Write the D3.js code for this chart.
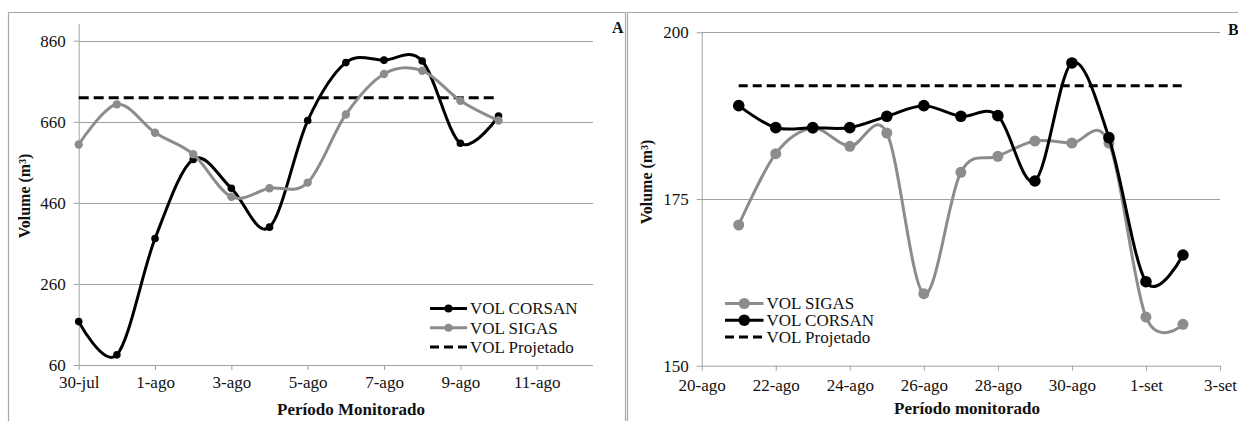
<!DOCTYPE html>
<html>
<head>
<meta charset="utf-8">
<script src="https://cdn.jsdelivr.net/npm/d3@7/dist/d3.min.js"></script>
<style>
  html, body { margin: 0; padding: 0; background: #fff; }
  svg { display: block; }
  svg text { font-family: "Liberation Serif", "Times New Roman", serif; }
</style>
</head>
<body>
<svg id="chart" width="1238" height="421"></svg>
<script>
// ---------- DATA ----------
// Panel A
const leftDates = ["2013-07-30","2013-07-31","2013-08-01","2013-08-02","2013-08-03","2013-08-04",
                   "2013-08-05","2013-08-06","2013-08-07","2013-08-08","2013-08-09","2013-08-10"];
const leftCorsan = [167, 85, 372, 567, 496, 400, 663, 806, 812, 810, 607, 674];
const leftSigas  = [604, 703, 633, 580, 475, 496, 510, 678, 778, 786, 712, 663];
const leftProjetado = [719, 719];
const leftXTickDates = ["2013-07-30","2013-08-01","2013-08-03","2013-08-05","2013-08-07","2013-08-09","2013-08-11"];
const leftXTickLabels = ["30-jul","1-ago","3-ago","5-ago","7-ago","9-ago","11-ago"];
const leftYTicks = [60, 260, 460, 660, 860];

// Panel B
const rightDates = ["2013-08-21","2013-08-22","2013-08-23","2013-08-24","2013-08-25","2013-08-26","2013-08-27",
                    "2013-08-28","2013-08-29","2013-08-30","2013-08-31","2013-09-01","2013-09-02"];
const rightSigas  = [171.1, 181.8, 185.6, 182.9, 184.9, 160.8, 179.0, 181.4, 183.7, 183.4, 183.4, 157.3, 156.2];
const rightCorsan = [189.0, 185.7, 185.7, 185.7, 187.4, 189.0, 187.4, 187.5, 177.7, 195.4, 184.2, 162.6, 166.6];
const rightProjetado = [192, 192];
const rightXTickDates = ["2013-08-20","2013-08-22","2013-08-24","2013-08-26","2013-08-28","2013-08-30","2013-09-01","2013-09-03"];
const rightXTickLabels = ["20-ago","22-ago","24-ago","26-ago","28-ago","30-ago","1-set","3-set"];
const rightYTicks = [150, 175, 200];

// ---------- DRAWING ----------
const svg = d3.select("#chart");
const parse = d3.utcParse("%Y-%m-%d");
const FONT = "Liberation Serif";
const GRID = "#a0a0a0";
const GREY = "#8c8c8c";

// panel borders
svg.append("path").attr("d", "M8.5,421 V12.5 H625.5 V421")
  .attr("fill", "none").attr("stroke", "#a8a8a8").attr("stroke-width", 1.2);
svg.append("path").attr("d", "M627.5,421 V12.5 H1238")
  .attr("fill", "none").attr("stroke", "#a8a8a8").attr("stroke-width", 1.2);

function panel(cfg) {
  const g = svg.append("g");
  const x = d3.scaleUtc().domain(cfg.xDomain.map(parse)).range(cfg.xRange);
  const y = d3.scaleLinear().domain(cfg.yDomain).range(cfg.yRange);
  const left = cfg.xRange[0], right = cfg.plotRight;

  // gridlines
  g.selectAll("line.grid").data(cfg.yTicks.slice(1)).join("line")
    .attr("x1", left).attr("x2", right)
    .attr("y1", d => Math.round(y(d)) + 0.5).attr("y2", d => Math.round(y(d)) + 0.5)
    .attr("stroke", GRID).attr("stroke-width", 1);

  // y axis
  const ya = g.append("g").attr("transform", `translate(${left},0)`)
    .call(d3.axisLeft(y).tickValues(cfg.yTicks).tickSize(5).tickPadding(8).tickFormat(d3.format("d")));
  ya.select(".domain").remove();
  ya.append("line").attr("x1", 0.5).attr("x2", 0.5).attr("y1", cfg.yAxisTop).attr("y2", cfg.yRange[0])
    .attr("stroke", GRID);
  ya.selectAll(".tick line").attr("stroke", GRID);
  ya.selectAll(".tick text").attr("font-size", 17).attr("fill", "#111").attr("font-family", FONT);

  // x axis
  const tickDates = cfg.xTickDates.map(parse);
  const xa = g.append("g").attr("transform", `translate(0,${cfg.yRange[0]})`)
    .call(d3.axisBottom(x).tickValues(tickDates).tickSize(5).tickPadding(cfg.xPad)
      .tickFormat((d, i) => cfg.xTickLabels[i]));
  xa.select(".domain").attr("stroke", GRID).attr("d", `M${left},0.5H${right}`);
  xa.selectAll(".tick line").attr("stroke", GRID);
  xa.selectAll(".tick text").attr("font-size", 17).attr("fill", "#111").attr("font-family", FONT);

  // axis titles
  g.append("text").attr("x", cfg.xTitlePos[0]).attr("y", cfg.xTitlePos[1])
    .attr("text-anchor", "middle").attr("font-weight", "bold").attr("font-size", 17)
    .attr("font-family", FONT).attr("fill", "#111").text(cfg.xTitle);
  g.append("text").attr("transform", `translate(${cfg.yTitlePos[0]},${cfg.yTitlePos[1]}) rotate(-90)`)
    .attr("text-anchor", "middle").attr("font-weight", "bold").attr("font-size", 16)
    .attr("font-family", FONT).attr("fill", "#111")
    .text("Volume (m³)");

  // projected
  const pd = cfg.projDates.map(parse);
  g.append("line").attr("x1", x(pd[0])).attr("x2", x(pd[1]))
    .attr("y1", y(cfg.proj[0])).attr("y2", y(cfg.proj[1]))
    .attr("stroke", "#000").attr("stroke-width", 3).attr("stroke-dasharray", cfg.dash);

  const dates = cfg.dates.map(parse);
  const line = d3.line().x(d => x(d[0])).y(d => y(d[1])).curve(d3.curveCardinal.tension(0));
  cfg.series.forEach(s => {
    const pts = dates.map((d, i) => [d, s.values[i]]);
    g.append("path").datum(pts).attr("d", line).attr("fill", "none")
      .attr("stroke", s.color).attr("stroke-width", 3);
    g.selectAll(null).data(pts).join("circle")
      .attr("cx", d => x(d[0])).attr("cy", d => y(d[1])).attr("r", s.r).attr("fill", s.color);
  });

  // legend
  const lg = g.append("g");
  cfg.legend.forEach((item, i) => {
    const yy = cfg.legendPos[1] + i * cfg.legendStep;
    const x0 = cfg.legendPos[0];
    if (item.dash) {
      lg.append("line").attr("x1", x0).attr("x2", x0 + cfg.legendLen).attr("y1", yy).attr("y2", yy)
        .attr("stroke", "#000").attr("stroke-width", 3).attr("stroke-dasharray", "9,5");
    } else {
      lg.append("line").attr("x1", x0).attr("x2", x0 + cfg.legendLen).attr("y1", yy).attr("y2", yy)
        .attr("stroke", item.color).attr("stroke-width", 3);
      lg.append("circle").attr("cx", x0 + cfg.legendLen / 2).attr("cy", yy).attr("r", item.r)
        .attr("fill", item.color);
    }
    lg.append("text").attr("x", x0 + cfg.legendLen + 3).attr("y", yy).attr("dy", "0.35em")
      .attr("font-size", 17).attr("font-family", FONT).attr("fill", "#111").text(item.label);
  });

  g.append("text").attr("x", cfg.letterPos[0]).attr("y", cfg.letterPos[1])
    .attr("font-weight", "bold").attr("font-size", 16).attr("font-family", FONT)
    .attr("fill", "#111").text(cfg.letter);
}

panel({
  xDomain: ["2013-07-30", "2013-08-11"], xRange: [78.7, 536.7], plotRight: 593,
  yDomain: [60, 860], yRange: [365, 40.7], yAxisTop: 24, xPad: 6,
  yTicks: leftYTicks, xTickDates: leftXTickDates, xTickLabels: leftXTickLabels,
  dates: leftDates,
  series: [
    { values: leftCorsan, color: "#000", r: 3.8 },
    { values: leftSigas, color: GREY, r: 4.2 }
  ],
  projDates: ["2013-07-30", "2013-08-10"], proj: leftProjetado, dash: "10,5",
  xTitle: "Período Monitorado", xTitlePos: [351, 415],
  yTitlePos: [30, 196],
  legend: [
    { label: "VOL CORSAN", color: "#000", r: 4 },
    { label: "VOL SIGAS", color: GREY, r: 4 },
    { label: "VOL Projetado", dash: true }
  ],
  legendPos: [430, 308.5], legendStep: 19.2, legendLen: 37,
  letter: "A", letterPos: [612, 33]
});

panel({
  xDomain: ["2013-08-20", "2013-09-03"], xRange: [701.7, 1220], plotRight: 1220,
  yDomain: [150, 200], yRange: [365.7, 32.3], yAxisTop: 32.3, xPad: 8,
  yTicks: rightYTicks, xTickDates: rightXTickDates, xTickLabels: rightXTickLabels,
  dates: rightDates,
  series: [
    { values: rightSigas, color: GREY, r: 5.5 },
    { values: rightCorsan, color: "#000", r: 5.8 }
  ],
  projDates: ["2013-08-21", "2013-09-02"], proj: rightProjetado, dash: "9,5",
  xTitle: "Período monitorado", xTitlePos: [967, 414],
  yTitlePos: [652, 182],
  legend: [
    { label: "VOL SIGAS", color: GREY, r: 5.5 },
    { label: "VOL CORSAN", color: "#000", r: 5.8 },
    { label: "VOL Projetado", dash: true }
  ],
  legendPos: [725, 303.5], legendStep: 16.7, legendLen: 38.5,
  letter: "B", letterPos: [1228, 35]
});
</script>
</body>
</html>
